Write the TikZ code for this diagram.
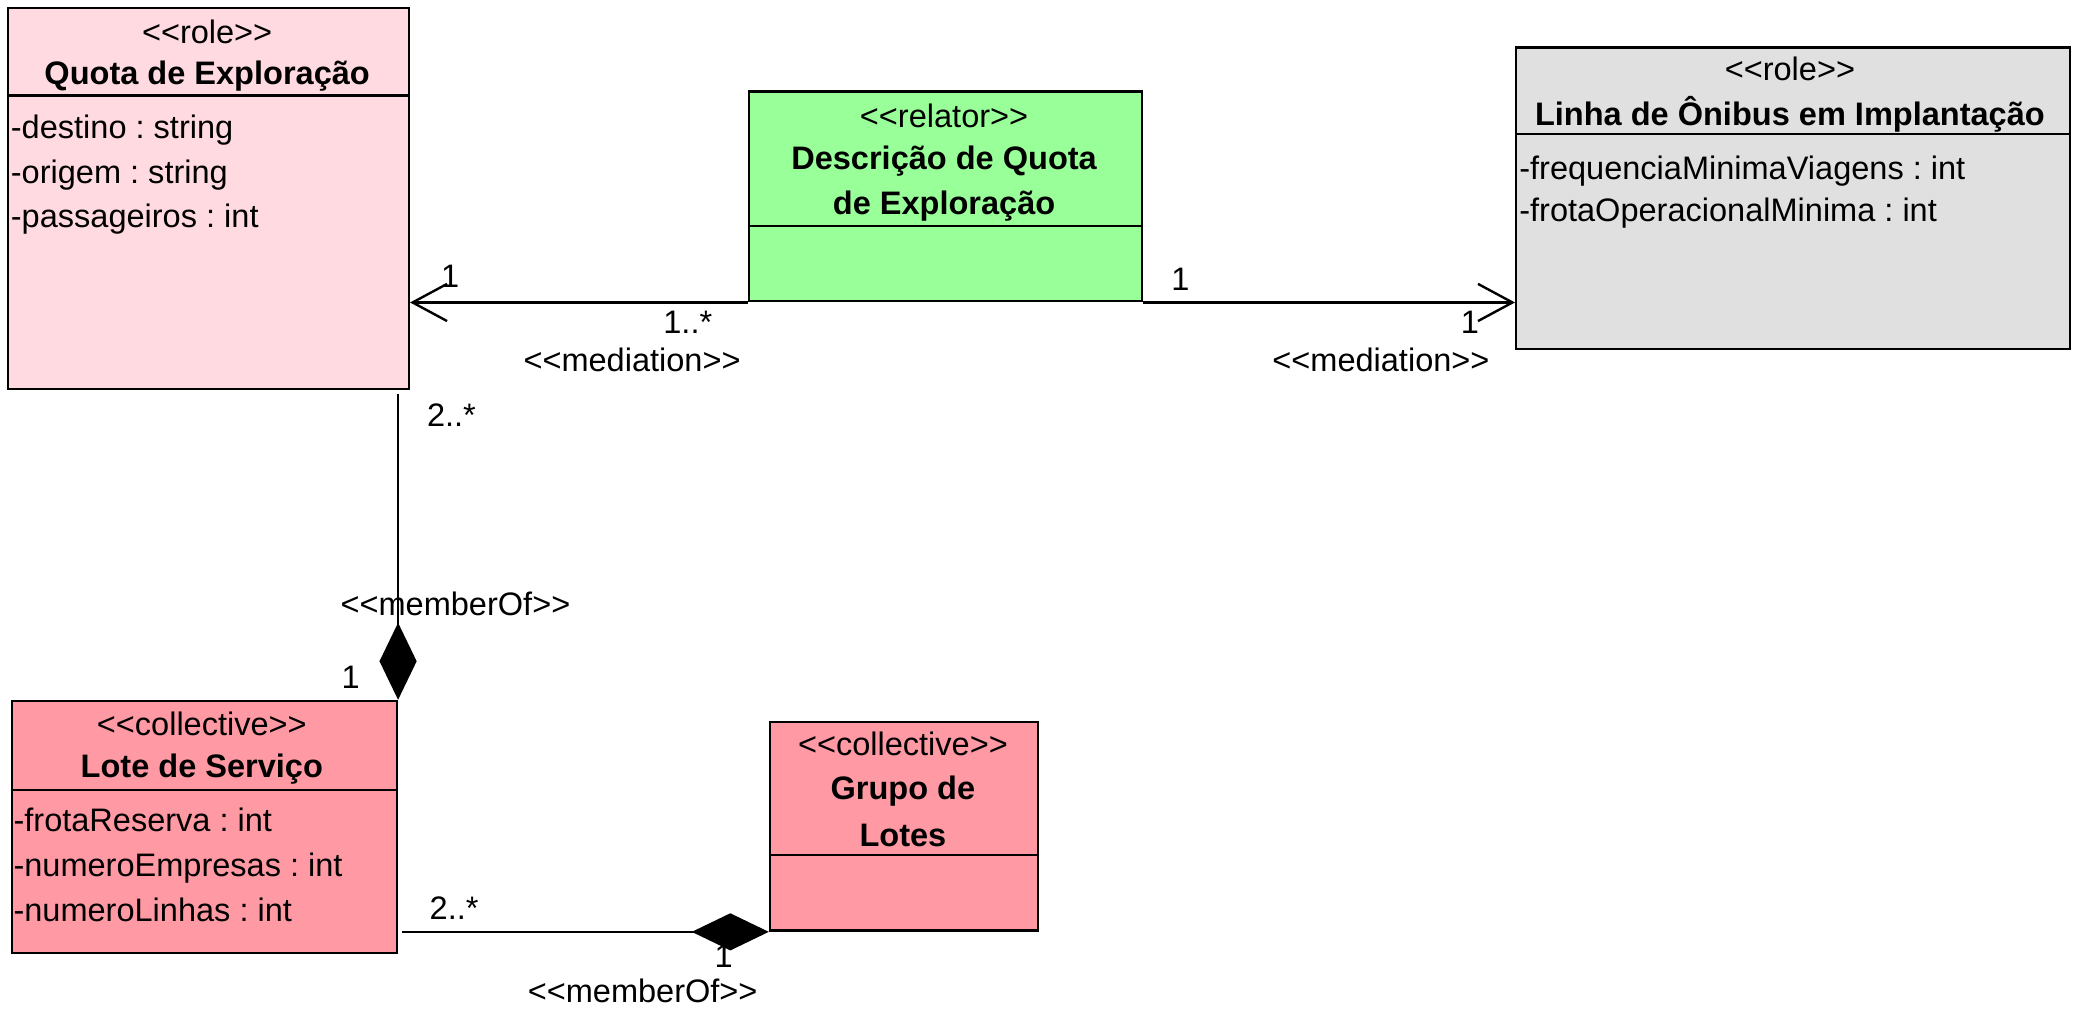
\documentclass[tikz,border=0pt]{standalone}
\usepackage{fontspec}
\setmainfont{Liberation Sans}
\usetikzlibrary{arrows.meta}
\frenchspacing
\newcommand{\stereo}[1]{<\kern0pt<#1>\kern0pt>}
\definecolor{rolepink}{RGB}{255,218,224}
\definecolor{collpink}{RGB}{255,153,163}
\definecolor{relgreen}{RGB}{153,255,153}
\definecolor{rolegray}{RGB}{224,224,224}
\tikzset{
	classbox/.style={draw, line width=1.8pt, rectangle, anchor=north west, inner sep=0pt},
	lbl/.style={font=\fontsize{24.5}{29}\selectfont, inner sep=0pt},
	ttl/.style={font=\fontsize{24.5}{29}\selectfont\bfseries, inner sep=0pt},
	attr/.style={lbl, anchor=base west},
	assoc/.style={line width=1.8pt},
	medarrow/.style={assoc, -{Straight Barb[length=26pt,width=28pt]}},
	memberdiamond/.style={assoc, -{Diamond[length=58pt,width=28pt]}}
}
\begin{document}
\begin{tikzpicture}[x=1pt,y=-1pt]
\useasboundingbox (0,0) rectangle (1568,773);
\node[classbox, fill=rolepink, minimum width=302pt, minimum height=287pt] (quota) at (5,5) {};
\node[classbox, fill=relgreen, minimum width=296pt, minimum height=158pt] (desc) at (563,68) {};
\node[classbox, fill=rolegray, minimum width=417pt, minimum height=227pt] (linha) at (1141,35) {};
\node[classbox, fill=collpink, minimum width=290pt, minimum height=190pt] (lote) at (8,527) {};
\node[classbox, fill=collpink, minimum width=202pt, minimum height=157pt] (grupo) at (579,543) {};
\draw[assoc] (quota.west |- 0,72) -- (quota.east |- 0,72);
\draw[assoc] (desc.west |- 0,170) -- (desc.east |- 0,170);
\draw[assoc] (linha.west |- 0,101) -- (linha.east |- 0,101);
\draw[assoc] (lote.west |- 0,595) -- (lote.east |- 0,595);
\draw[assoc] (grupo.west |- 0,644) -- (grupo.east |- 0,644);
\path
	(156,24) node[lbl] (quotaSt) {\stereo{role}}
	(156,57) node[ttl] (quotaTtl) {Quota de Exploração}
	(8,104) node[attr] (quotaA) {-destino : string}
	(8,138) node[attr] (quotaB) {-origem : string}
	(8,171) node[attr] (quotaC) {-passageiros : int};
\path
	(711,87) node[lbl] (descSt) {\stereo{relator}}
	(711,121) node[ttl] (descTtlA) {Descrição de Quota}
	(711,155) node[ttl] (descTtlB) {de Exploração};
\path
	(1348,52) node[lbl] (linhaSt) {\stereo{role}}
	(1348,86) node[ttl] (linhaTtl) {Linha de Ônibus em Implantação}
	(1144,135) node[attr] (linhaA) {-frequenciaMinimaViagens : int}
	(1144,167) node[attr] (linhaB) {-frotaOperacionalMinima : int};
\path
	(152,545) node[lbl] (loteSt) {\stereo{collective}}
	(152,579) node[ttl] (loteTtl) {Lote de Serviço}
	(10,626) node[attr] (loteA) {-frotaReserva : int}
	(10,660) node[attr] (loteB) {-numeroEmpresas : int}
	(10,694) node[attr] (loteC) {-numeroLinhas : int};
\path
	(680,560) node[lbl] (grupoSt) {\stereo{collective}}
	(680,596) node[ttl] (grupoTtlA) {Grupo de}
	(680,629) node[ttl] (grupoTtlB) {Lotes};
\draw[medarrow] (desc.south west) -- (quota.east |- desc.south west);
\draw[medarrow] (desc.south east) -- (linha.west |- desc.south east);
\draw[memberdiamond] ([yshift=-3pt]quota.south -| lote.north east) -- (lote.north east);
\draw[memberdiamond] ([xshift=3pt]lote.east |- grupo.south west) -- (grupo.south west);
\path
	(339,208) node[lbl] (medAsrc) {1}
	(518,243) node[lbl] (medAtgt) {1..*}
	(476,271) node[lbl] (medAname) {\stereo{mediation}}
	(889,210) node[lbl] (medBsrc) {1}
	(1107,243) node[lbl] (medBtgt) {1}
	(1040,271) node[lbl] (medBname) {\stereo{mediation}}
	(340,313) node[lbl] (memAsrc) {2..*}
	(343,455) node[lbl] (memAname) {\stereo{memberOf}}
	(264,510) node[lbl] (memAtgt) {1}
	(342,684) node[lbl] (memBsrc) {2..*}
	(545,720) node[lbl] (memBtgt) {1}
	(484,746) node[lbl] (memBname) {\stereo{memberOf}};
\end{tikzpicture}
\end{document}
